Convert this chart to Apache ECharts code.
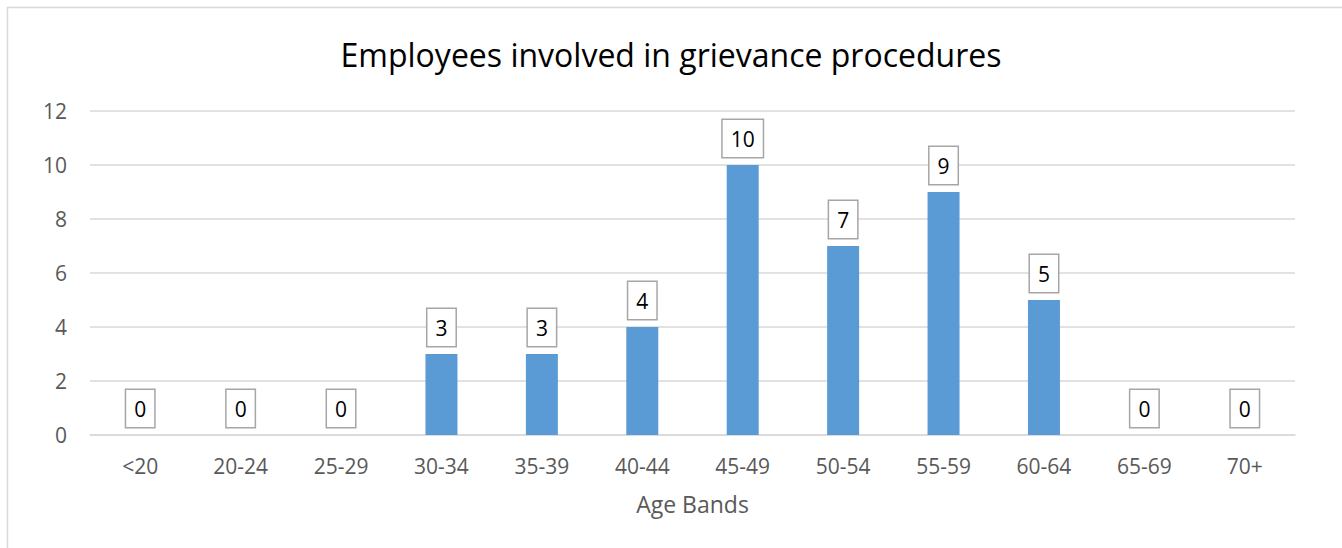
<!DOCTYPE html>
<html>
<head>
<meta charset="utf-8">
<style>
  html, body { margin: 0; padding: 0; background: #fff; }
  #chart { width: 1342px; height: 548px; }
</style>
<script src="https://cdn.jsdelivr.net/npm/echarts@6/dist/echarts.min.js"></script>
</head>
<body>
<div id="chart"></div>
<script>
var ageBands = ['<20', '20-24', '25-29', '30-34', '35-39', '40-44', '45-49', '50-54', '55-59', '60-64', '65-69', '70+'];
var employees = [0, 0, 0, 3, 3, 4, 10, 7, 9, 5, 0, 0];

var font = '"Open Sans", "Noto Sans", sans-serif';
var muted = '#595959';
var rule = '#d9d9d9';

var chart = echarts.init(document.getElementById('chart'), null, { renderer: 'svg' });
chart.setOption({
  animation: false,
  textStyle: { fontFamily: font },
  title: {
    text: 'Employees involved in grievance procedures',
    left: 'center',
    top: 33,
    textStyle: { color: '#000', fontSize: 32, fontWeight: 'normal', fontFamily: font }
  },
  graphic: [{
    type: 'rect',
    shape: { x: 7.5, y: 7.5, width: 1400, height: 600 },
    style: { fill: 'none', stroke: '#d9d9d9', lineWidth: 1.5 },
    silent: true
  }],
  grid: { left: 90, right: 47, top: 111, bottom: 113 },
  xAxis: {
    type: 'category',
    data: ageBands,
    name: 'Age Bands',
    nameLocation: 'center',
    nameGap: 57,
    nameTextStyle: { color: muted, fontSize: 23, fontFamily: font },
    axisLine: { lineStyle: { color: rule, width: 1.5 } },
    axisTick: { show: false },
    axisLabel: { color: muted, fontSize: 21, margin: 20, fontFamily: font }
  },
  yAxis: {
    type: 'value',
    min: 0,
    max: 12,
    interval: 2,
    axisLine: { show: false },
    axisTick: { show: false },
    axisLabel: { color: muted, fontSize: 21, margin: 23, fontFamily: font },
    splitLine: { lineStyle: { color: rule, width: 1.5 } }
  },
  series: [{
    type: 'bar',
    data: employees,
    barWidth: 32,
    itemStyle: { color: '#5b9bd5' },
    label: {
      show: true,
      position: 'top',
      distance: 8,
      color: '#000',
      fontSize: 21,
      fontFamily: font,
      lineHeight: 22,
      padding: [8, 8, 7, 8],
      backgroundColor: '#fff',
      borderColor: '#a6a6a6',
      borderWidth: 1.5
    }
  }]
});
</script>
</body>
</html>
